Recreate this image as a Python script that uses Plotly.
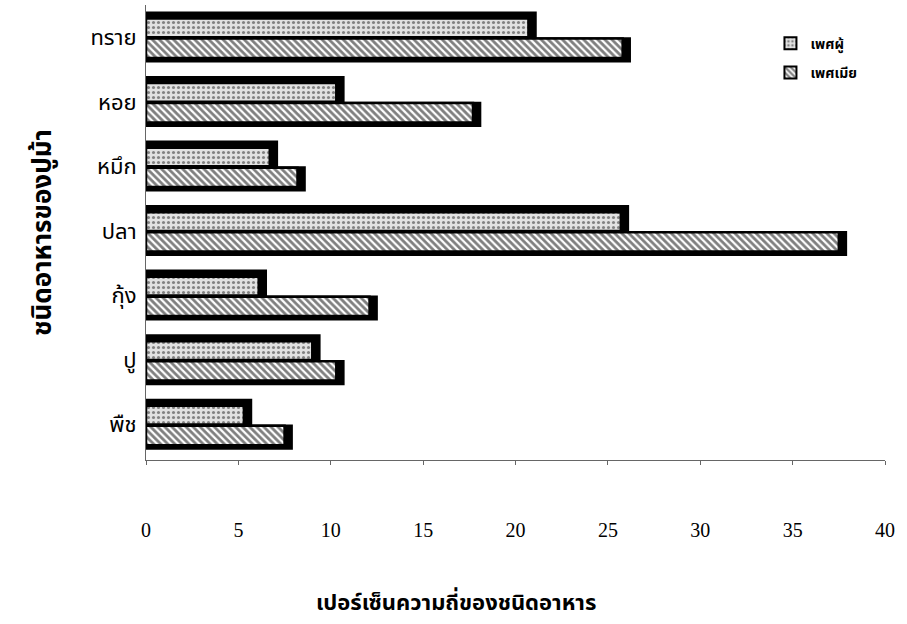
import plotly.graph_objects as go

categories = ["พืช", "ปู", "กุ้ง", "ปลา", "หมึก", "หอย", "ทราย"]
male = [5.3, 9.0, 6.1, 25.7, 6.7, 10.3, 20.7]
female = [7.5, 10.3, 12.1, 37.5, 8.2, 17.7, 25.8]
series_names = ["เพศผู้", "เพศเมีย"]
x_ticks = [0, 5, 10, 15, 20, 25, 30, 35, 40]

W = 0.34
SH = 0.45  # depth of the black shadow in value units

fig = go.Figure()

# black "3D" shadows behind the bars
fig.add_trace(go.Bar(y=categories, x=[v + SH for v in male], orientation="h",
                     offset=-0.01, width=W + 0.07, marker=dict(color="black", line=dict(width=0)),
                     showlegend=False, hoverinfo="skip"))
fig.add_trace(go.Bar(y=categories, x=[v + SH for v in female], orientation="h",
                     offset=-W - 0.05, width=W + 0.05, marker=dict(color="black", line=dict(width=0)),
                     showlegend=False, hoverinfo="skip"))

fig.add_trace(go.Bar(
    y=categories, x=male, orientation="h", name="<b>" + series_names[0] + "</b>",
    legendgroup="m", offset=0.0, width=W - 0.05,
    marker=dict(color="white", line=dict(color="black", width=2.5),
                pattern=dict(shape=".", fgcolor="#222222", bgcolor="#e2e2e2",
                             size=5, solidity=0.3)),
))
fig.add_trace(go.Bar(
    y=categories, x=female, orientation="h", name="<b>" + series_names[1] + "</b>",
    legendgroup="f", offset=-W + 0.02, width=W - 0.04,
    marker=dict(color="white", line=dict(color="black", width=2.5),
                pattern=dict(shape="\\", fgcolor="black", bgcolor="white",
                             size=5, solidity=0.55)),
))

serif = "Liberation Serif, Times New Roman, serif"
thai = "Noto Sans Thai, Noto Sans, DejaVu Sans, sans-serif"

fig.update_layout(
    width=907, height=624,
    margin=dict(l=146, r=22, t=5, b=164),
    barmode="overlay",
    plot_bgcolor="white", paper_bgcolor="white",
    showlegend=True,
    legend=dict(x=0.845, y=0.95, xanchor="left", yanchor="top",
                font=dict(family=thai, size=14, color="black"),
                bgcolor="rgba(0,0,0,0)", tracegroupgap=8, itemsizing="constant"),
    xaxis=dict(range=[0, 40], tickvals=x_ticks, ticktext=[str(t) for t in x_ticks],
               showgrid=False, zeroline=False, showline=True, linecolor="#666666",
               linewidth=1, ticks="outside", ticklen=4, tickcolor="#666666",
               ticklabelstandoff=48,
               tickfont=dict(family=serif, size=20, color="black")),
    yaxis=dict(categoryorder="array", categoryarray=categories,
               range=[-0.55, 6.5],
               showgrid=False, zeroline=False, showline=True, linecolor="#666666",
               linewidth=1, ticks="", ticklabelstandoff=4,
               tickfont=dict(family=thai, size=22, color="black")),
    annotations=[
        dict(text="<b>เปอร์เซ็นความถี่ของชนิดอาหาร</b>", xref="paper", yref="paper",
             x=0.42, y=-0.315, xanchor="center", yanchor="middle", showarrow=False,
             font=dict(family=thai, size=22, color="black")),
        dict(text="<b>ชนิดอาหารของปูม้า</b>", xref="paper", yref="paper",
             x=-0.14, y=0.5, xanchor="center", yanchor="middle", showarrow=False,
             textangle=-90, font=dict(family=thai, size=26, color="black")),
    ],
)

fig.write_html("out.html")
